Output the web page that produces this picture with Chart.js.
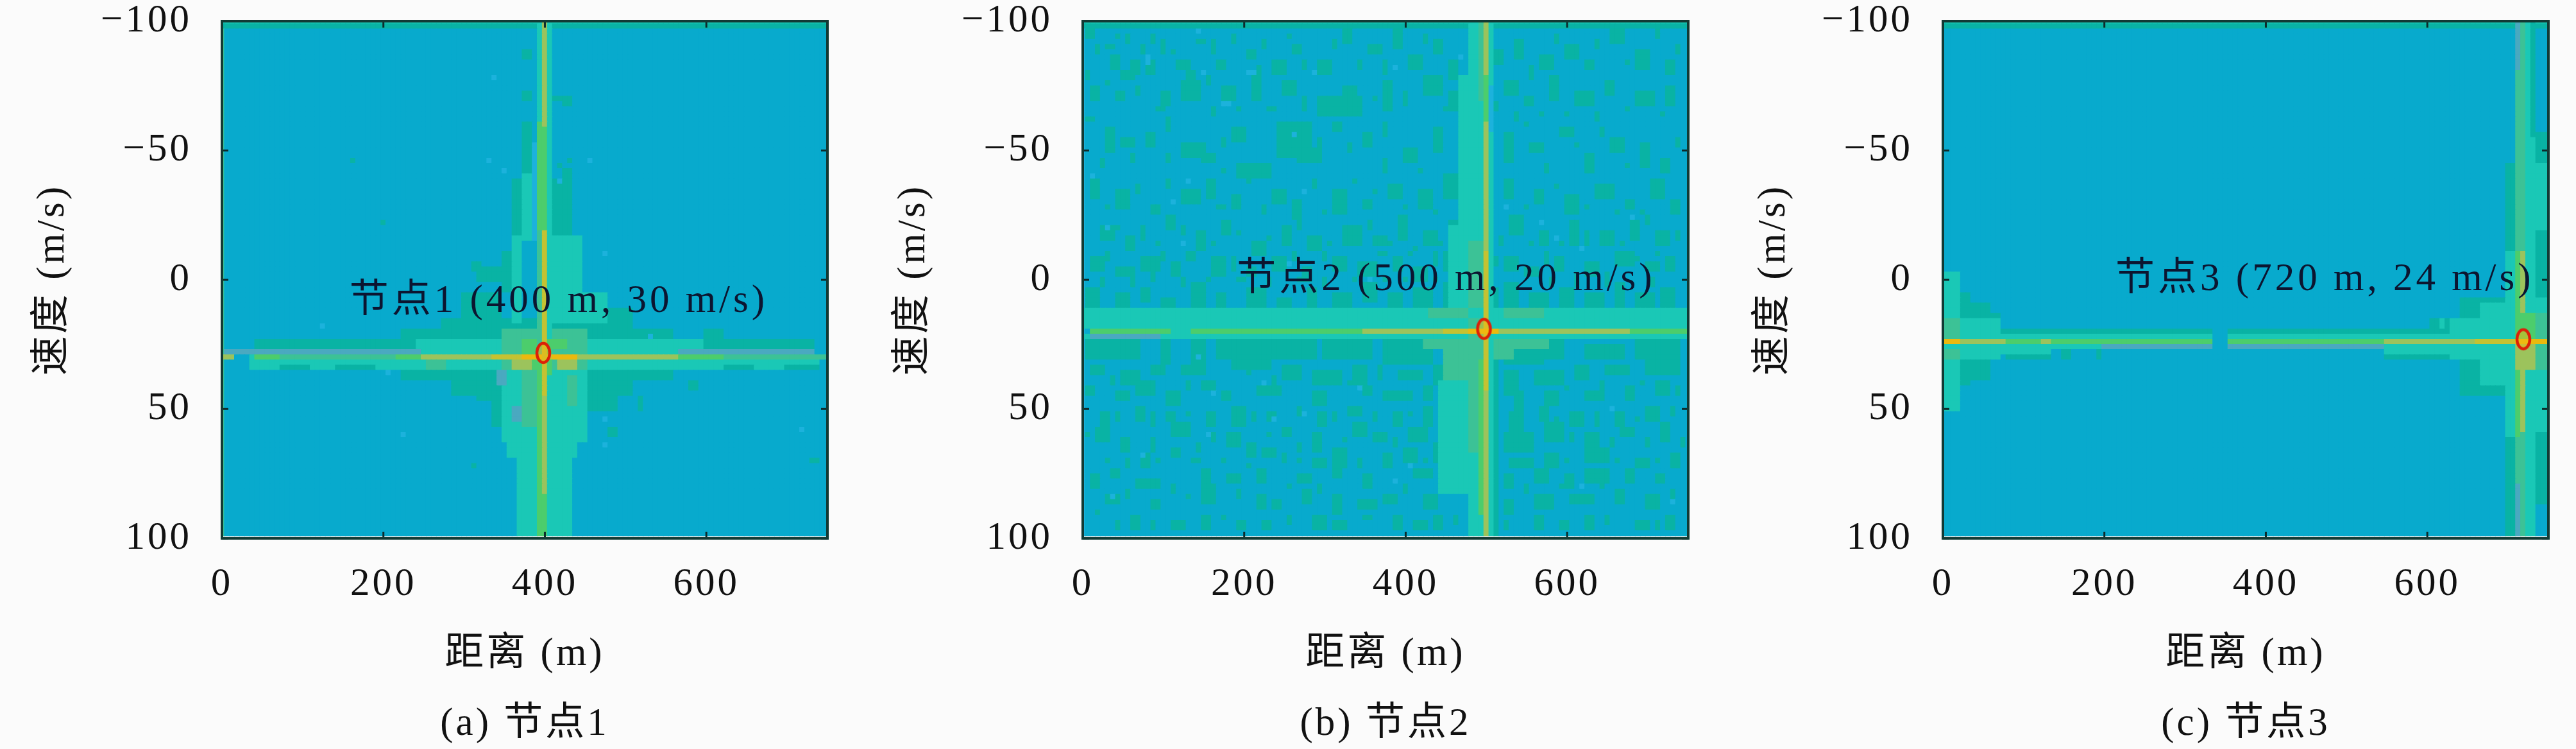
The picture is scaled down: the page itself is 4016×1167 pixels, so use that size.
<!DOCTYPE html>
<html>
<head>
<meta charset="utf-8">
<script src="https://cdn.jsdelivr.net/npm/chart.js@4/dist/chart.umd.min.js"></script>
<style>
  html, body { margin: 0; padding: 0; background: #fbfbfb; }
  .panel { position: absolute; top: 0; height: 1167px; }
</style>
</head>
<body>
<div class="panel" style="left:0;width:1340px"><canvas id="nodeA" width="1340" height="1167"></canvas></div>
<div class="panel" style="left:1342px;width:1340px"><canvas id="nodeB" width="1340" height="1167"></canvas></div>
<div class="panel" style="left:2683px;width:1333px"><canvas id="nodeC" width="1333" height="1167"></canvas></div>
<script>
// tick labels and text
var distTicks = [0, 200, 400, 600];
var speedTicks = [-100, -50, 0, 50, 100];
var captions = ['(a) 节点1', '(b) 节点2', '(c) 节点3'];
var nodeLabels = ['节点1 (400 m, 30 m/s)', '节点2 (500 m, 20 m/s)', '节点3 (720 m, 24 m/s)'];
var labelDist = [417, 450, 473];
var labelSpeed = [8.5, 0, 0];
var peakDist = [398, 497, 719];
var peakSpeed = [28.3, 19, 23];

// colour of each magnitude level
// 0 base, 1 dark teal, 2 bright teal, 3 green teal, 4 green, 5 yellow green, 6 yellow, 7 orange, 8 light cyan, 9 slate
var levelColors = ['#08aacd', '#09b3a4', '#1ac8b6', '#3cc296', '#4ccd6c', '#9cc35c', '#c4c232', '#ebb90e', '#1cb2dc', '#4aa9c0'];

// magnitude regions: [dist from, dist to, speed from, speed to, level]
var bandsA = [
  [0, 750, -100, 100, 0],
  [0, 0, -100, 100, 3],
  [0, 750, -100, -100, 2], [0, 750, -98, -98, 1],
  // skirt of the range ridge
  [43, 240, 24, 26, 1], [240, 600, 24, 26, 2], [600, 735, 24, 26, 1],
  [5, 248, 28, 28, 9], [248, 565, 28, 28, 2], [565, 737, 28, 28, 9],
  [32, 742, 32, 34, 2],
  [75, 110, 34, 34, 1], [140, 190, 34, 34, 1], [255, 275, 32, 34, 3], [620, 660, 34, 34, 1], [700, 742, 34, 34, 1],
  [220, 245, 20, 22, 1], [245, 312, 20, 22, 1], [287, 510, 16, 22, 1], [510, 560, 20, 22, 1],
  [220, 560, 36, 38, 1], [285, 345, 40, 44, 1], [450, 510, 40, 44, 1],
  [315, 345, 46, 46, 1], [455, 490, 46, 50, 1],
  // skirt of the speed ridge
  [350, 450, 36, 46, 2], [335, 350, 48, 56, 1], [348, 450, 48, 62, 2], [355, 440, 64, 68, 2], [365, 435, 70, 100, 2],
  [374, 386, -88, -86, 1], [374, 386, -72, -70, 1], [374, 386, -60, -42, 1], [374, 386, -40, -16, 2],
  [360, 373, -38, -18, 1], [360, 373, -16, 16, 2], [345, 360, -10, 4, 1], [318, 345, -4, 0, 1],
  [410, 423, -70, -70, 1], [423, 436, -70, -68, 1], [410, 423, -38, -18, 1], [410, 423, -16, 16, 2],
  [423, 436, -42, -18, 1], [423, 436, -16, 16, 2], [437, 449, -16, 16, 2],
  [300, 345, 6, 16, 1], [450, 480, 6, 16, 2], [480, 510, 12, 16, 1],
  // centre blob
  [350, 450, 20, 34, 3], [372, 390, 24, 34, 4], [372, 390, 36, 56, 3], [430, 438, 38, 48, 3],
  [345, 358, 26, 34, 3], [340, 350, 36, 40, 9], [362, 372, 50, 54, 9],
  [410, 430, 24, 26, 4], [415, 440, 32, 34, 5], [360, 385, 32, 34, 5],
  // speed ridge
  [387, 388, -53, -16, 8], [392, 397, -100, -60, 2], [392, 397, -60, -18, 4], [392, 397, -18, 28, 3], [392, 397, 32, 100, 4],
  [398, 404, -100, -60, 5], [398, 404, -58, -18, 4], [398, 404, -18, 28, 6], [398, 404, 32, 46, 6], [398, 404, 46, 84, 5], [398, 404, 84, 100, 4],
  [405, 410, -100, 100, 2], [405, 410, 24, 36, 4],
  // range ridge
  [0, 16, 30, 30, 5], [32, 43, 30, 30, 2], [43, 70, 30, 30, 4], [70, 215, 30, 30, 3], [215, 245, 30, 30, 4], [245, 335, 30, 30, 5],
  [335, 375, 30, 30, 6], [375, 395, 30, 30, 7], [395, 412, 30, 30, 6], [412, 440, 30, 30, 7], [440, 565, 30, 30, 5], [565, 625, 30, 30, 4], [625, 750, 30, 30, 3],
  // lone cells
  [337, 338, -78, -78, 8], [331, 332, -46, -46, 8], [350, 351, -42, -42, 8], [458, 459, -46, -46, 8], [478, 479, -10, -10, 8], [420, 421, -38, -38, 8],
  [122, 123, 18, 18, 8], [206, 207, 36, 36, 8], [225, 226, 60, 60, 8], [478, 479, 54, 54, 8], [472, 473, 64, 64, 8], [446, 447, 85, 85, 8], [720, 721, 58, 58, 8], [529, 530, 22, 22, 8],
  [426, 436, -46, -46, 1], [478, 488, 58, 60, 1], [519, 520, 46, 50, 1], [581, 588, 40, 42, 1], [275, 282, 16, 18, 1], [600, 620, 20, 22, 1],
  [163, 164, -46, -46, 1], [200, 201, -22, -22, 1], [312, 320, -6, -4, 1], [730, 740, 70, 70, 1], [310, 311, 72, 72, 1], [420, 421, -44, -44, 1]
];

var bandsB = [
  [0, 0, -100, 100, 8],
  [0, 750, -100, -100, 2], [0, 750, -98, -98, 1],
  [0, 750, 12, 18, 2], [0, 750, 22, 22, 2], [10, 95, 22, 22, 9],
  [110, 135, 24, 32, 0],
  [425, 575, 24, 26, 3], [450, 478, 28, 38, 3], [478, 497, 16, 66, 3],
  [440, 477, 40, 82, 2], [478, 495, 68, 100, 2],
  [478, 495, -100, 10, 2], [465, 477, -78, 10, 2], [455, 464, -20, 10, 2],
  [478, 495, -14, 10, 3], [430, 475, 12, 14, 3], [525, 570, 12, 14, 3],
  [503, 510, -100, -75, 2], [503, 510, -74, -58, 8], [503, 510, -57, 100, 2], [510, 535, 24, 30, 3], [512, 518, 32, 100, 1],
  [490, 496, -100, -70, 3], [490, 496, 32, 90, 4],
  [497, 503, -100, -78, 5], [497, 503, -78, -60, 4], [497, 503, -60, -10, 5], [497, 503, -10, 18, 6], [497, 503, 22, 43, 6], [497, 503, 43, 100, 5],
  [8, 110, 20, 20, 4], [110, 135, 20, 20, 2], [135, 350, 20, 20, 4], [350, 445, 20, 20, 5], [445, 478, 20, 20, 6], [478, 515, 20, 20, 7], [515, 680, 20, 20, 5], [680, 750, 20, 20, 4]
];

var bandsC = [
  [0, 750, -100, 100, 0],
  [0, 750, -100, -100, 2], [0, 750, -98, -98, 1],
  // left end
  [0, 22, -2, 50, 2], [22, 34, 6, 40, 1], [34, 60, 10, 38, 1], [60, 72, 14, 18, 1], [0, 70, 16, 30, 2], [0, 22, 16, 30, 3],
  // horizontal ridge
  [70, 336, 20, 20, 1], [70, 336, 22, 22, 2], [353, 750, 20, 20, 1], [353, 750, 22, 22, 2],
  [0, 197, 26, 26, 2], [197, 336, 26, 26, 9], [353, 547, 26, 26, 9], [547, 750, 26, 26, 2],
  [70, 135, 28, 28, 2], [80, 135, 30, 30, 1], [150, 160, 28, 30, 1], [190, 197, 28, 30, 1],
  [547, 750, 28, 28, 2], [547, 640, 30, 30, 1],
  [605, 643, 16, 18, 1], [643, 696, 8, 44, 1], [630, 696, 16, 30, 2], [665, 696, 10, 40, 2], [618, 622, 16, 18, 2],
  // right end
  [697, 707, -44, 100, 1], [697, 707, -10, 60, 2], [708, 715, -100, -80, 9], [708, 715, -80, 16, 3], [708, 715, 32, 80, 3], [708, 715, 80, 100, 9],
  [721, 727, -100, 100, 2], [728, 733, -100, -56, 1], [728, 733, -55, 100, 2], [734, 750, -56, 7, 1], [734, 750, 8, 86, 2], [734, 750, 60, 86, 1],
  [734, 750, -44, -20, 2],
  [716, 721, -100, -10, 3], [716, 721, -10, 16, 5], [716, 721, 32, 60, 5], [716, 721, 60, 100, 3],
  [708, 715, -10, 60, 4], [708, 735, 14, 22, 4], [708, 735, 26, 34, 5], [735, 750, 14, 34, 3],
  // ridge row
  [0, 22, 24, 24, 7], [22, 77, 24, 24, 5], [77, 336, 24, 24, 4], [120, 135, 24, 24, 5], [353, 547, 24, 24, 4], [547, 662, 24, 24, 5], [662, 700, 24, 24, 6], [700, 712, 24, 24, 6], [712, 750, 24, 24, 7],
  [336, 353, 18, 30, 0]
];

// weak noise cells in node 2: [column, row, columns, rows], dark teal unless the panel says otherwise
var speckleB = [
  [1, 2, 2, 2], [5, 5, 2, 1], [9, 3, 1, 2], [14, 3, 1, 2], [6, 7, 2, 3], [10, 8, 2, 3], [13, 8, 2, 3], [8, 10, 3, 2], [19, 8, 3, 2], [21, 10, 2, 3], [26, 4, 1, 3], [27, 8, 2, 2], [33, 6, 2, 2], [36, 4, 1, 2], [38, 8, 3, 3], [42, 5, 2, 2], [47, 8, 3, 3], [52, 2, 2, 3], [57, 5, 3, 2], [62, 2, 2, 4], [65, 7, 3, 3], [70, 4, 2, 3], [73, 8, 2, 4], [82, 6, 2, 3], [86, 4, 2, 4], [91, 7, 3, 3], [96, 5, 3, 3], [100, 8, 2, 2], [105, 2, 3, 3], [110, 6, 3, 4], [114, 2, 1, 2], [116, 8, 2, 3],
  [2, 13, 2, 3], [7, 14, 2, 2], [16, 14, 2, 3], [20, 12, 4, 4], [28, 13, 3, 3], [34, 11, 2, 5], [40, 12, 3, 3], [47, 15, 9, 4], [52, 13, 3, 2], [60, 12, 2, 6], [68, 11, 4, 4], [73, 14, 3, 4], [84, 12, 3, 3], [88, 15, 2, 2], [93, 11, 2, 5], [98, 14, 4, 3], [104, 12, 2, 3], [110, 14, 4, 3], [116, 13, 2, 4],
  [5, 21, 2, 5], [8, 23, 3, 2], [13, 22, 2, 3], [20, 24, 5, 3], [24, 26, 3, 2], [30, 21, 3, 3], [31, 28, 7, 3], [39, 20, 7, 7], [43, 25, 5, 3], [50, 20, 2, 2], [56, 22, 2, 3], [64, 25, 3, 3], [70, 21, 2, 5], [84, 22, 2, 6], [89, 24, 3, 2], [95, 21, 3, 2], [100, 26, 2, 4], [105, 23, 3, 3], [111, 24, 2, 5], [115, 27, 2, 3],
  [2, 31, 2, 4], [7, 33, 3, 4], [14, 36, 2, 2], [20, 33, 4, 3], [25, 31, 2, 4], [30, 34, 2, 3], [38, 33, 3, 3], [42, 35, 2, 4], [50, 33, 3, 5], [56, 35, 2, 2], [61, 32, 3, 3], [67, 33, 3, 4], [72, 30, 3, 5], [84, 31, 2, 4], [90, 33, 2, 3], [96, 34, 3, 4], [102, 32, 4, 3], [108, 35, 2, 2], [113, 31, 3, 4], [117, 35, 2, 3],
  [4, 40, 3, 3], [9, 42, 2, 3], [17, 38, 2, 3], [23, 41, 2, 4], [28, 39, 2, 3], [34, 43, 3, 3], [40, 40, 2, 4], [45, 42, 3, 3], [52, 40, 4, 4], [58, 42, 3, 2], [63, 38, 2, 5], [68, 41, 3, 3], [73, 39, 2, 5], [85, 38, 3, 4], [91, 41, 2, 3], [97, 39, 2, 5], [103, 41, 3, 3], [109, 39, 2, 4], [114, 41, 3, 3],
  [2, 46, 3, 3], [7, 48, 4, 2], [12, 46, 4, 3], [18, 47, 2, 3], [26, 46, 3, 4], [33, 48, 2, 2], [38, 46, 3, 3], [44, 48, 2, 3], [50, 46, 3, 3], [55, 47, 4, 3], [62, 46, 2, 3], [66, 48, 3, 3], [72, 45, 3, 4], [84, 46, 3, 3], [88, 48, 3, 2], [94, 46, 2, 3], [100, 47, 3, 3], [106, 45, 4, 3], [112, 47, 3, 2], [116, 46, 2, 3],
  [1, 52, 3, 5], [7, 53, 3, 4], [12, 52, 2, 3], [16, 54, 3, 3], [22, 51, 3, 5], [27, 53, 2, 4], [33, 52, 4, 4], [39, 54, 3, 3], [45, 52, 2, 5], [50, 53, 4, 4], [56, 51, 3, 4], [61, 53, 3, 4], [66, 52, 4, 5], [72, 51, 2, 5], [84, 51, 3, 5], [89, 53, 4, 4], [95, 52, 3, 5], [100, 53, 4, 4], [106, 51, 2, 6], [110, 53, 4, 4], [115, 52, 3, 5],
  // rows below the range ridge
  [0, 62, 12, 4], [16, 62, 9, 5], [20, 67, 5, 2], [27, 62, 20, 4], [30, 66, 8, 2], [48, 62, 10, 4], [60, 62, 10, 5], [84, 64, 8, 3], [92, 62, 4, 4], [100, 63, 8, 3], [110, 62, 9, 4],
  [2, 67, 3, 2], [8, 68, 4, 3], [14, 67, 3, 2], [40, 67, 4, 3], [46, 68, 6, 3], [54, 67, 3, 4], [63, 68, 5, 2], [70, 67, 3, 4], [84, 68, 3, 5], [90, 68, 6, 3], [98, 67, 3, 3], [104, 67, 5, 2], [112, 66, 7, 3],
  [1, 71, 2, 2], [7, 72, 3, 2], [11, 70, 4, 3], [17, 72, 3, 3], [24, 70, 3, 2], [28, 72, 2, 2], [35, 71, 5, 2], [46, 72, 3, 3], [56, 71, 2, 2], [60, 72, 6, 2], [68, 71, 2, 3], [86, 72, 2, 5], [92, 72, 3, 3], [100, 72, 4, 2], [108, 71, 2, 3], [114, 70, 3, 3],
  [4, 76, 2, 3], [11, 75, 2, 3], [17, 76, 2, 2], [25, 76, 2, 3], [30, 75, 3, 4], [37, 76, 2, 2], [47, 76, 2, 3], [53, 75, 3, 2], [62, 76, 2, 3], [68, 75, 2, 4], [85, 76, 3, 4], [91, 75, 2, 3], [97, 76, 3, 3], [106, 76, 2, 3], [112, 75, 3, 3],
  [3, 79, 3, 3], [8, 81, 2, 3], [18, 78, 4, 3], [29, 80, 3, 3], [33, 82, 2, 3], [40, 79, 2, 2], [46, 80, 2, 4], [54, 78, 3, 3], [58, 80, 3, 2], [65, 79, 4, 3], [84, 80, 6, 4], [92, 78, 4, 4], [100, 80, 3, 3], [107, 79, 3, 2], [115, 78, 2, 4],
  [12, 84, 2, 3], [18, 83, 2, 2], [36, 83, 3, 2], [46, 85, 3, 2], [50, 83, 3, 4], [60, 84, 2, 3], [64, 83, 3, 3], [70, 82, 2, 4], [85, 85, 5, 2], [92, 84, 3, 3], [100, 83, 5, 3], [110, 85, 3, 2], [117, 84, 2, 3],
  [2, 88, 2, 3], [6, 87, 2, 2], [11, 89, 5, 2], [24, 87, 2, 3], [29, 88, 3, 2], [35, 87, 2, 3], [43, 88, 3, 2], [50, 87, 2, 2], [56, 88, 2, 3], [66, 87, 4, 2], [84, 88, 2, 3], [90, 87, 3, 3], [96, 88, 2, 3], [100, 87, 5, 3], [108, 87, 2, 3], [114, 88, 2, 2],
  [5, 92, 3, 2], [14, 93, 2, 2], [24, 90, 3, 4], [35, 92, 2, 3], [38, 93, 2, 2], [44, 91, 2, 3], [50, 92, 2, 4], [55, 93, 4, 2], [60, 92, 3, 2], [68, 92, 3, 3], [84, 93, 2, 3], [90, 92, 4, 3], [97, 92, 5, 2], [106, 91, 2, 3], [112, 92, 3, 3],
  [10, 96, 2, 3], [18, 97, 3, 2], [24, 96, 2, 3], [36, 97, 2, 2], [46, 96, 3, 3], [50, 97, 3, 2], [62, 96, 2, 3], [66, 97, 3, 2], [70, 96, 2, 3], [90, 96, 2, 3], [95, 97, 2, 2], [100, 96, 2, 3], [110, 97, 3, 2], [116, 96, 2, 3]
];
// finer single-width noise between the larger clumps of node 2
var fineSpeckleB = [
  [3, 5, 1, 2], [7, 3, 1, 1], [12, 5, 1, 2], [16, 4, 1, 3], [18, 6, 1, 1], [23, 4, 2, 1], [30, 3, 1, 2], [35, 9, 1, 2], [41, 3, 1, 1], [44, 8, 1, 2], [50, 4, 1, 2], [55, 8, 1, 2], [60, 8, 1, 3], [68, 3, 1, 2], [77, 3, 1, 2], [80, 7, 1, 1], [89, 9, 1, 3], [94, 3, 1, 2], [102, 4, 1, 2], [108, 8, 1, 1], [118, 5, 1, 2],
  [1, 10, 1, 2], [5, 12, 1, 1], [11, 13, 1, 2], [15, 17, 2, 1], [25, 11, 1, 2], [26, 17, 1, 2], [31, 17, 1, 1], [37, 17, 2, 1], [44, 15, 1, 3], [58, 15, 1, 1], [64, 14, 1, 3], [72, 17, 1, 1], [82, 16, 1, 2], [86, 18, 1, 2], [91, 18, 1, 1], [96, 18, 1, 1], [102, 18, 1, 2], [108, 17, 1, 1], [115, 18, 1, 1],
  [1, 19, 2, 1], [4, 27, 1, 2], [10, 26, 1, 2], [17, 19, 1, 3], [17, 26, 1, 2], [28, 23, 1, 2], [28, 29, 1, 1], [47, 23, 1, 2], [53, 24, 1, 2], [60, 20, 1, 3], [60, 27, 1, 3], [67, 29, 1, 1], [88, 20, 1, 1], [92, 28, 1, 2], [98, 24, 1, 1], [103, 21, 1, 2], [108, 28, 1, 1], [118, 23, 1, 2],
  [0, 33, 1, 3], [5, 36, 1, 1], [11, 32, 1, 2], [17, 31, 1, 2], [27, 36, 2, 1], [33, 31, 1, 1], [36, 36, 1, 2], [46, 31, 1, 2], [48, 37, 1, 1], [54, 31, 1, 1], [58, 33, 1, 1], [64, 36, 1, 1], [70, 37, 1, 1], [88, 36, 1, 1], [94, 32, 1, 1], [100, 36, 1, 1], [106, 37, 1, 1], [111, 37, 1, 1],
  [0, 41, 1, 2], [7, 40, 1, 1], [12, 40, 1, 3], [15, 43, 1, 1], [20, 40, 1, 2], [26, 43, 1, 1], [31, 41, 1, 1], [37, 42, 1, 1], [43, 39, 1, 2], [49, 43, 1, 1], [57, 39, 1, 2], [61, 43, 1, 1], [66, 44, 1, 1], [71, 43, 1, 1], [83, 42, 1, 2], [89, 43, 1, 1], [95, 43, 1, 1], [100, 41, 1, 3], [107, 43, 1, 1], [112, 38, 1, 2], [118, 41, 1, 2],
  [0, 47, 1, 3], [5, 45, 1, 2], [16, 45, 1, 2], [21, 45, 2, 2], [30, 46, 1, 3], [36, 45, 1, 1], [42, 45, 1, 2], [48, 45, 1, 2], [59, 45, 2, 1], [65, 45, 1, 1], [70, 45, 1, 3], [82, 46, 1, 2], [92, 45, 1, 3], [98, 49, 1, 1], [104, 49, 1, 1], [110, 46, 1, 1], [114, 45, 1, 1],
  [4, 50, 1, 2], [10, 50, 1, 2], [14, 49, 1, 2], [20, 50, 1, 2], [25, 50, 1, 1], [31, 50, 2, 1], [37, 50, 1, 2], [43, 50, 1, 1], [48, 50, 1, 2], [54, 50, 1, 1], [60, 50, 1, 1], [64, 50, 1, 1], [70, 50, 1, 1], [82, 52, 1, 4], [93, 50, 1, 2], [98, 50, 1, 2], [104, 50, 1, 2], [113, 50, 1, 2],
  [6, 69, 1, 2], [21, 70, 1, 2], [33, 68, 1, 1], [38, 69, 1, 2], [53, 70, 1, 1], [59, 67, 1, 3], [73, 69, 1, 2], [82, 70, 1, 2], [96, 71, 1, 1], [103, 70, 1, 2], [111, 70, 1, 1], [118, 71, 1, 2],
  [0, 75, 1, 2], [7, 76, 1, 2], [14, 76, 1, 3], [21, 76, 1, 1], [34, 76, 1, 2], [43, 75, 1, 2], [50, 76, 1, 2], [58, 76, 1, 2], [65, 76, 1, 1], [72, 76, 1, 2], [82, 76, 1, 2], [94, 77, 1, 1], [102, 76, 1, 3], [110, 77, 1, 1], [117, 75, 1, 2],
  [0, 80, 2, 1], [14, 81, 1, 3], [23, 82, 1, 2], [26, 80, 1, 2], [37, 80, 1, 1], [43, 82, 1, 2], [52, 81, 1, 1], [62, 81, 1, 2], [72, 80, 1, 1], [97, 80, 1, 2], [105, 81, 1, 2], [112, 81, 1, 2], [119, 81, 1, 2],
  [5, 85, 1, 1], [9, 85, 1, 2], [15, 85, 1, 1], [22, 85, 2, 1], [28, 85, 1, 1], [33, 86, 1, 1], [40, 84, 1, 2], [43, 85, 1, 1], [55, 85, 1, 2], [68, 85, 1, 1], [74, 86, 1, 1], [96, 85, 1, 1], [106, 85, 1, 1], [114, 85, 1, 1],
  [0, 90, 1, 2], [9, 91, 1, 2], [18, 90, 1, 2], [21, 92, 1, 1], [31, 91, 1, 2], [41, 90, 1, 1], [47, 90, 1, 2], [64, 90, 1, 2], [72, 90, 1, 2], [88, 90, 1, 2], [95, 90, 1, 1], [103, 90, 1, 1], [117, 91, 1, 2],
  [3, 95, 1, 1], [7, 97, 1, 2], [14, 97, 1, 2], [28, 96, 1, 1], [31, 97, 2, 2], [41, 96, 1, 2], [56, 96, 2, 1], [74, 96, 1, 2], [84, 97, 1, 2], [104, 96, 1, 2], [114, 97, 1, 2]
];
var cyanB = [
  [23, 2, 1, 1], [36, 1, 1, 1], [13, 7, 1, 2], [62, 9, 1, 1], [75, 7, 1, 1], [24, 10, 1, 1], [33, 10, 2, 1], [46, 10, 1, 1], [28, 16, 2, 1], [42, 22, 1, 1], [21, 31, 1, 1], [44, 33, 1, 1],
  [18, 35, 1, 1], [20, 43, 1, 1], [41, 47, 1, 1], [5, 40, 1, 1], [91, 39, 1, 1], [94, 42, 1, 1], [109, 38, 1, 1], [84, 36, 1, 1], [99, 44, 1, 1], [2, 30, 1, 1], [57, 50, 1, 1],
  [23, 65, 1, 1], [36, 70, 1, 1], [26, 72, 1, 1], [44, 76, 1, 1], [38, 77, 1, 1], [55, 71, 1, 1], [12, 84, 1, 1], [25, 80, 1, 1], [65, 86, 1, 1], [62, 89, 1, 1], [6, 92, 1, 1], [105, 75, 1, 1], [99, 90, 1, 1], [117, 93, 1, 1]
];

var GRID_COLS = 121, GRID_ROWS = 100;
var DIST_STEP = 6.25, SPEED_STEP = 2;

var panelBands = [bandsA, [[0, 750, -100, 100, 0]], bandsC];
var panelIds = ['nodeA', 'nodeB', 'nodeC'];

function paintBands(grid, bands) {
  bands.forEach(function (b) {
    for (var c = 0; c < GRID_COLS; c++) {
      var d = c * DIST_STEP;
      if (Math.abs(b[0] - b[1]) < 2) {
        // lone cell: nearest column only
        if (Math.abs(d - b[0]) > DIST_STEP / 2) continue;
      } else if (d < b[0] || d > b[1]) continue;
      for (var r = 0; r < GRID_ROWS; r++) {
        var v = -100 + r * SPEED_STEP;
        if (v >= b[2] && v <= b[3]) grid[r][c] = b[4];
      }
    }
  });
}

function paintCells(grid, patches, level) {
  patches.forEach(function (p) {
    for (var r = p[1]; r < p[1] + p[3] && r < GRID_ROWS; r++) {
      for (var c = p[0]; c < p[0] + p[2] && c < GRID_COLS; c++) grid[r][c] = level;
    }
  });
}

function buildGrid(idx) {
  var grid = [];
  for (var r = 0; r < GRID_ROWS; r++) grid.push(new Array(GRID_COLS).fill(0));
  paintBands(grid, panelBands[idx]);
  if (idx == 1) {
    paintCells(grid, speckleB, 1);
    paintCells(grid, fineSpeckleB, 1);
    paintCells(grid, cyanB, 8);
    paintBands(grid, bandsB);
  }
  return grid;
}

function peakMarker() {
  // small open ellipse, the plotted peak is stretched like the rest of the figure
  var w = 30, h = 38;
  var cv = document.createElement('canvas');
  cv.width = w; cv.height = h;
  var g = cv.getContext('2d');
  g.fillStyle = 'rgba(240,185,20,0.55)';
  g.beginPath(); g.ellipse(w / 2, h / 2, 8, 14, 0, 0, Math.PI * 2); g.fill();
  g.strokeStyle = '#dc2008';
  g.lineWidth = 4.5;
  g.beginPath(); g.ellipse(w / 2, h / 2, 10, 15, 0, 0, Math.PI * 2); g.stroke();
  return cv;
}

var FONT = '"Liberation Serif", "Noto Sans CJK SC", serif';
var FONT_SIZE = 61;

// the figure's text runs wider than the installed serif, so open it up a little
var spacingPlugin = {
  id: 'spacing',
  beforeLayout: function (chart) { chart.ctx.letterSpacing = '4px'; },
  beforeDraw: function (chart) { chart.ctx.letterSpacing = '4px'; }
};

// inward ticks on all four sides and the box, placed through the scales
var boxPlugin = {
  id: 'box',
  afterDatasetsDraw: function (chart) {
    var ctx = chart.ctx, a = chart.chartArea;
    var sx = chart.scales.x, sy = chart.scales.y;
    ctx.save();
    ctx.strokeStyle = '#0d2b2b';
    ctx.lineWidth = 3;
    ctx.beginPath();
    distTicks.forEach(function (t) {
      var x = sx.getPixelForValue(t);
      ctx.moveTo(x, a.top); ctx.lineTo(x, a.top + 10);
      ctx.moveTo(x, a.bottom); ctx.lineTo(x, a.bottom - 10);
    });
    speedTicks.forEach(function (t) {
      var y = sy.getPixelForValue(t);
      ctx.moveTo(a.left, y); ctx.lineTo(a.left + 10, y);
      ctx.moveTo(a.right, y); ctx.lineTo(a.right - 10, y);
    });
    ctx.stroke();
    ctx.lineWidth = 4;
    ctx.strokeStyle = '#123a34';
    ctx.strokeRect(a.left, a.top, a.right - a.left, a.bottom - a.top);
    ctx.restore();
  }
};

var labelPlugin = {
  id: 'nodeLabel',
  afterDatasetsDraw: function (chart, args, opts) {
    var ctx = chart.ctx;
    ctx.save();
    ctx.font = FONT_SIZE + 'px ' + FONT;
    ctx.letterSpacing = '5px';
    ctx.fillStyle = '#0c1530';
    ctx.textAlign = 'center';
    ctx.textBaseline = 'middle';
    ctx.fillText(nodeLabels[opts.idx], chart.scales.x.getPixelForValue(labelDist[opts.idx]), chart.scales.y.getPixelForValue(labelSpeed[opts.idx]));
    ctx.restore();
  }
};

function drawPanel(idx) {
  var grid = buildGrid(idx);
  var points = [], colors = [];
  for (var r = 0; r < GRID_ROWS; r++) {
    for (var c = 0; c < GRID_COLS; c++) {
      points.push({ x: c * DIST_STEP, y: -100 + r * SPEED_STEP });
      colors.push(levelColors[grid[r][c]]);
    }
  }
  var canvas = document.getElementById(panelIds[idx]);
  new Chart(canvas, {
    type: 'scatter',
    data: {
      datasets: [
        {
          label: '峰值',
          data: [{ x: peakDist[idx], y: peakSpeed[idx] }],
          pointStyle: peakMarker(),
          order: 0
        },
        {
          label: '距离-速度谱',
          data: points,
          pointStyle: 'rect',
          pointRadius: 6.5,
          pointBorderWidth: 0,
          pointBackgroundColor: colors,
          order: 1
        }
      ]
    },
    options: {
      responsive: false,
      animation: false,
      devicePixelRatio: 1,
      events: [],
      layout: { padding: { top: 33, right: canvas.width - 1290, bottom: 1, left: 0 } },
      plugins: {
        legend: { display: false },
        tooltip: { enabled: false },
        title: {
          display: true,
          text: captions[idx],
          position: 'bottom',
          fullSize: false,
          color: '#111',
          font: { family: FONT, size: FONT_SIZE, weight: 'normal' },
          padding: 0
        },
        nodeLabel: { idx: idx }
      },
      scales: {
        x: {
          type: 'linear', min: 0, max: 750,
          afterBuildTicks: function (s) { s.ticks = distTicks.map(function (v) { return { value: v }; }); },
          afterFit: function (s) { s.height = 254; s.paddingLeft = 0; s.paddingRight = 0; },
          grid: { display: false, drawTicks: false },
          border: { display: false },
          ticks: { color: '#111', padding: 36, maxRotation: 0, font: { family: FONT, size: FONT_SIZE } },
          title: { display: true, text: '距离 (m)', color: '#111', font: { family: FONT, size: FONT_SIZE }, padding: { top: 0, bottom: 36 } }
        },
        y: {
          type: 'linear', min: -100, max: 100, reverse: true,
          afterBuildTicks: function (s) { s.ticks = speedTicks.map(function (v) { return { value: v }; }); },
          afterFit: function (s) { s.width = 346; s.paddingTop = 0; s.paddingBottom = 0; },
          grid: { display: false, drawTicks: false },
          border: { display: false },
          ticks: {
            color: '#111', padding: 47, font: { family: FONT, size: FONT_SIZE },
            callback: function (v) { return v < 0 ? '\u2212' + Math.abs(v) : String(v); }
          },
          title: { display: true, text: '速度 (m/s)', color: '#111', font: { family: FONT, size: FONT_SIZE }, padding: { top: 46, bottom: 0 } }
        }
      }
    },
    plugins: [spacingPlugin, boxPlugin, labelPlugin]
  });
}

drawPanel(0);
drawPanel(1);
drawPanel(2);
</script>
</body>
</html>
